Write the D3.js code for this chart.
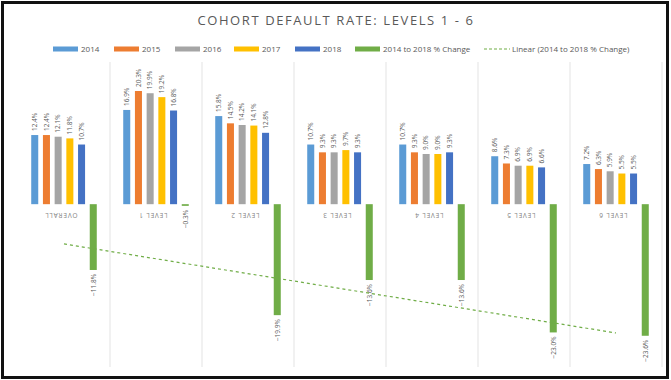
<!DOCTYPE html>
<html>
<head>
<meta charset="utf-8">
<script src="https://cdn.jsdelivr.net/npm/d3@7"></script>
<style>
  body { margin: 0; background: #fff; }
  text { font-family: "Open Sans", "Noto Sans", sans-serif; }
</style>
</head>
<body>
<div id="viz"></div>
<script>
var categories = ['OVERALL', 'LEVEL 1', 'LEVEL 2', 'LEVEL 3', 'LEVEL 4', 'LEVEL 5', 'LEVEL 6'];
var years = ['2014', '2015', '2016', '2017', '2018'];
var rate2014 = [12.4, 16.9, 15.8, 10.7, 10.7, 8.6, 7.2];
var rate2015 = [12.4, 20.3, 14.5, 9.3, 9.3, 7.3, 6.3];
var rate2016 = [12.1, 19.9, 14.2, 9.3, 9.0, 6.9, 5.9];
var rate2017 = [11.8, 19.2, 14.1, 9.7, 9.0, 6.9, 5.5];
var rate2018 = [10.7, 16.8, 12.8, 9.3, 9.3, 6.6, 5.5];
var change = [-11.8, -0.3, -19.9, -13.6, -13.6, -23.0, -23.6];
var changeName = '2014 to 2018 % Change';
var trendName = 'Linear (2014 to 2018 % Change)';

var rates = [rate2014, rate2015, rate2016, rate2017, rate2018];
var seriesNames = years.concat([changeName]);
var colors = ['#5B9BD5', '#ED7D31', '#A5A5A5', '#FFC000', '#4472C4', '#70AD47'];

var width = 671, height = 380;

var svg = d3.select('#viz').append('svg')
  .attr('width', width)
  .attr('height', height);

// frame
svg.append('rect')
  .attr('x', 2.5).attr('y', 2.5)
  .attr('width', 665).attr('height', 375)
  .attr('fill', '#fff')
  .attr('stroke', '#111')
  .attr('stroke-width', 3);

var xScale = d3.scaleBand()
  .domain(categories)
  .range([18, 662]);

var inner = d3.scaleBand()
  .domain(seriesNames)
  .range([0, xScale.bandwidth()])
  .paddingInner(0.4)
  .paddingOuter(1.13);

var yScale = d3.scaleLinear()
  .domain([-29.2, 25.5])
  .range([367, 62]);

// category gridlines
svg.append('g').selectAll('line')
  .data(categories.slice(1).concat(['end']))
  .enter().append('line')
    .attr('x1', function(d, i) { return xScale.range()[0] + (i + 1) * xScale.step(); })
    .attr('x2', function(d, i) { return xScale.range()[0] + (i + 1) * xScale.step(); })
    .attr('y1', 62)
    .attr('y2', 367)
    .attr('stroke', '#E3E3E3')
    .attr('stroke-width', 1);

// build flat list of bars
var bars = [];
categories.forEach(function(c, ci) {
  rates.forEach(function(arr, si) {
    bars.push({cat: c, series: years[si], value: arr[ci], color: colors[si]});
  });
  bars.push({cat: c, series: changeName, value: change[ci], color: colors[5]});
});

var fmt = d3.format('.1f');

svg.append('g').selectAll('rect')
  .data(bars)
  .enter().append('rect')
    .attr('x', function(d) { return xScale(d.cat) + inner(d.series); })
    .attr('width', inner.bandwidth())
    .attr('y', function(d) { return yScale(Math.max(0, d.value)); })
    .attr('height', function(d) { return Math.abs(yScale(d.value) - yScale(0)); })
    .style('fill', function(d) { return d.color; });

svg.append('g').selectAll('text')
  .data(bars)
  .enter().append('text')
    .attr('transform', function(d) {
      var cx = xScale(d.cat) + inner(d.series) + inner.bandwidth() / 2;
      var cy = d.value >= 0 ? yScale(d.value) - 4 : yScale(d.value) + 4;
      return 'translate(' + cx + ',' + cy + ') rotate(-90)';
    })
    .attr('text-anchor', function(d) { return d.value >= 0 ? 'start' : 'end'; })
    .attr('dy', '0.35em')
    .attr('font-size', 6.5)
    .attr('fill', '#595959')
    .text(function(d) { return fmt(d.value) + '%'; });

// category labels (shown upside down like the source)
svg.append('g').selectAll('text')
  .data(categories)
  .enter().append('text')
    .attr('transform', function(d) {
      return 'translate(' + (xScale(d) + xScale.bandwidth() / 2 - 3) + ',' + 215 + ') rotate(180)';
    })
    .attr('text-anchor', 'middle')
    .attr('dy', '0.35em')
    .attr('font-size', 6.5)
    .attr('letter-spacing', 0.8)
    .attr('fill', '#7F7F7F')
    .text(function(d) { return d; });

// linear trendline of the change series
var n = change.length;
var xs = d3.range(1, n + 1);
var mx = d3.mean(xs), my = d3.mean(change);
var slope = d3.sum(xs, function(x, i) { return (x - mx) * (change[i] - my); }) /
            d3.sum(xs, function(x) { return (x - mx) * (x - mx); });
var intercept = my - slope * mx;
var trend = xs.map(function(x, i) {
  return [xScale(categories[i]) + xScale.bandwidth() / 2, yScale(intercept + slope * x)];
});

svg.append('path')
  .attr('d', d3.line()([trend[0], trend[n - 1]]))
  .attr('fill', 'none')
  .attr('stroke', '#70AD47')
  .attr('stroke-width', 1.2)
  .attr('stroke-dasharray', '3,3');

// title
svg.append('text')
  .attr('x', 336)
  .attr('y', 25)
  .attr('text-anchor', 'middle')
  .attr('font-size', 13)
  .attr('letter-spacing', 1.6)
  .attr('fill', '#595959')
  .text('COHORT DEFAULT RATE: LEVELS 1 - 6');

// legend
var legendX = [53, 114, 175, 234, 295, 355, 484];
var legendItems = seriesNames.concat([trendName]);
var legend = svg.append('g').selectAll('g')
  .data(legendItems)
  .enter().append('g')
    .attr('transform', function(d, i) { return 'translate(' + legendX[i] + ',49)'; });

legend.each(function(d, i) {
  var g = d3.select(this);
  if (i < 6) {
    g.append('rect')
      .attr('x', 0).attr('y', -2.5)
      .attr('width', 25).attr('height', 5)
      .attr('fill', colors[i]);
  } else {
    g.append('line')
      .attr('x1', 0).attr('x2', 26)
      .attr('y1', 0).attr('y2', 0)
      .attr('stroke', '#70AD47')
      .attr('stroke-width', 1.2)
      .attr('stroke-dasharray', '3,2');
  }
  g.append('text')
    .attr('x', 28)
    .attr('dy', '0.35em')
    .attr('font-size', 8)
    .attr('fill', '#595959')
    .text(d);
});
</script>
</body>
</html>
